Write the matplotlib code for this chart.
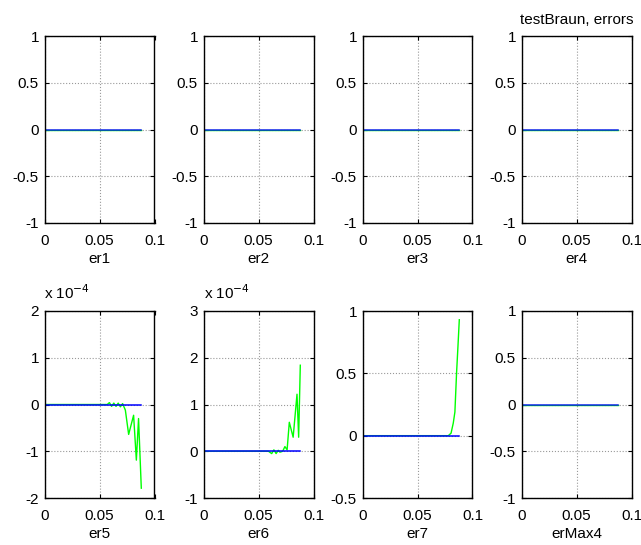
import matplotlib
matplotlib.use("Agg")
import matplotlib.pyplot as plt

plt.rcParams["font.family"] = ["Liberation Sans", "DejaVu Sans"]
plt.rcParams["axes.unicode_minus"] = False

# zero series (er1..er4, erMax4 and the blue line everywhere)
x_zero = [0.0, 0.088]
y_zero = [0.0, 0.0]

# er5, units of 1e-4
er5_x = [0.0, 0.057, 0.059, 0.061, 0.063, 0.065, 0.067, 0.069, 0.071, 0.0735,
         0.0765, 0.081, 0.0835, 0.0855, 0.088]
er5_y = [0.0, 0.0, 0.04, -0.04, 0.03, -0.04, 0.03, -0.05, 0.02, -0.12,
         -0.64, -0.23, -1.19, -0.30, -1.79]

# er6, units of 1e-4
er6_x = [0.0, 0.057, 0.059, 0.062, 0.064, 0.066, 0.068, 0.0695, 0.072, 0.074,
         0.076, 0.078, 0.0815, 0.085, 0.0865, 0.088]
er6_y = [0.0, 0.0, 0.0, -0.05, 0.03, -0.05, 0.02, -0.02, 0.0, 0.10,
         0.03, 0.62, 0.30, 1.22, 0.30, 1.84]

# er7
er7_x = [0.0, 0.078, 0.0805, 0.0825, 0.084, 0.0855, 0.0868, 0.088]
er7_y = [0.0, 0.0, 0.02, 0.10, 0.19, 0.50, 0.72, 0.93]

names = ["er1", "er2", "er3", "er4", "er5", "er6", "er7", "erMax4"]
ylims = [(-1, 1), (-1, 1), (-1, 1), (-1, 1), (-2, 2), (-1, 3), (-0.5, 1), (-1, 1)]
yticks = [[-1, -0.5, 0, 0.5, 1]] * 4 + [[-2, -1, 0, 1, 2], [-1, 0, 1, 2, 3],
                                          [-0.5, 0, 0.5, 1], [-1, -0.5, 0, 0.5, 1]]
green = [(x_zero, y_zero)] * 4 + [(er5_x, er5_y), (er6_x, er6_y), (er7_x, er7_y), (x_zero, y_zero)]

W, H = 641, 545
fig = plt.figure(figsize=(W / 100, H / 100), dpi=100)

lefts = [44.5, 203.5, 362.5, 521.5]
rows = [(36, 223), (311, 498)]

for i, name in enumerate(names):
    r, c = divmod(i, 4)
    top, bot = rows[r]
    ax = fig.add_axes([lefts[c] / W, 1 - bot / H, 110 / W, (bot - top) / H])
    gx, gy = green[i]
    ax.plot(gx, gy, color=(0, 1, 0), lw=1.0)
    alpha = 0.85 if i not in (4, 5, 6) else 1.0
    ax.plot(x_zero, y_zero, color=(0, 0, 1), lw=1.1, alpha=alpha)
    ax.set_xlim(0, 0.1)
    ax.set_ylim(*ylims[i])
    ax.set_xticks([0, 0.05, 0.1])
    ax.set_xticklabels(["0", "0.05", "0.1"])
    ax.set_yticks(yticks[i])
    ax.set_yticklabels([("%g" % v) for v in yticks[i]])
    ax.grid(True, linestyle=":", color="#999999", lw=0.8)
    ax.tick_params(direction="in", top=True, right=True, length=3, width=0.8,
                   labelsize=11, colors="black")
    ax.tick_params(axis="x", pad=8)
    ax.tick_params(axis="y", pad=4)
    for s in ax.spines.values():
        s.set_linewidth(1.0)
    ax.set_xlabel(name, fontsize=11, labelpad=3)
    if i in (4, 5):
        ax.text(0.0, 1.05, r"x 10$^{-4}$", transform=ax.transAxes,
                fontsize=11, ha="left", va="bottom")
    if i == 3:
        ax.set_title("testBraun, errors", fontsize=11, pad=9)

fig.savefig("out.png", dpi=100)
